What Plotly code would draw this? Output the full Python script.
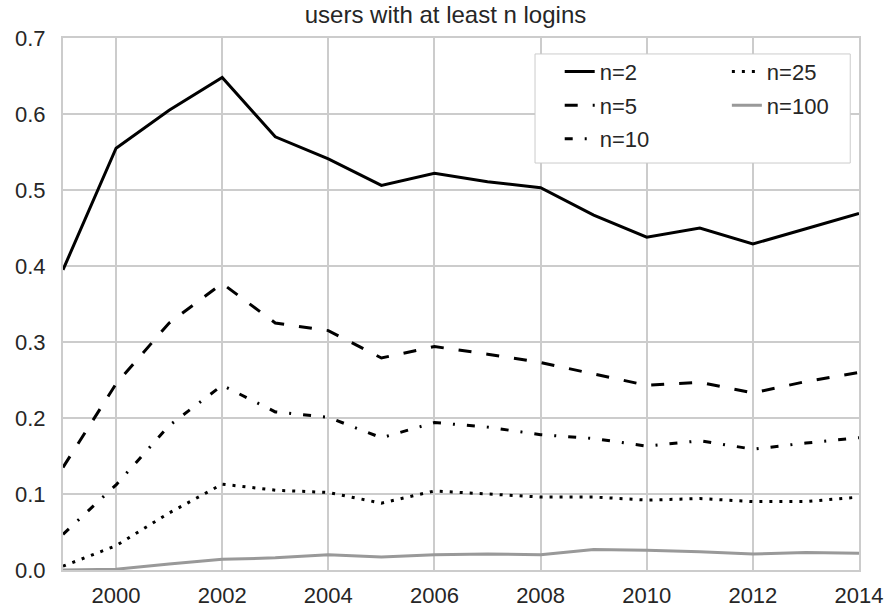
import plotly.graph_objects as go

years = list(range(1999, 2015))
n2 = [0.395, 0.555, 0.605, 0.648, 0.570, 0.541, 0.506, 0.522, 0.511, 0.503, 0.467, 0.438, 0.450, 0.429, 0.449, 0.469]
n5 = [0.135, 0.245, 0.325, 0.377, 0.325, 0.315, 0.279, 0.294, 0.284, 0.273, 0.258, 0.243, 0.247, 0.233, 0.248, 0.260]
n10 = [0.047, 0.112, 0.190, 0.243, 0.208, 0.201, 0.174, 0.194, 0.188, 0.178, 0.173, 0.163, 0.170, 0.159, 0.167, 0.174]
n25 = [0.005, 0.032, 0.075, 0.113, 0.105, 0.102, 0.088, 0.104, 0.100, 0.096, 0.096, 0.092, 0.094, 0.090, 0.090, 0.096]
n100 = [0.000, 0.001, 0.008, 0.014, 0.016, 0.020, 0.017, 0.020, 0.021, 0.020, 0.027, 0.026, 0.024, 0.021, 0.023, 0.022]

series = [
    ("n=2", n2, "black", "solid", "legend"),
    ("n=5", n5, "black", "13px,15px", "legend"),
    ("n=10", n10, "black", "8px,12px,2px,12px", "legend"),
    ("n=25", n25, "black", "3px,7px", "legend2"),
    ("n=100", n100, "#999999", "solid", "legend2"),
]

FONT = "Liberation Sans, Arial, sans-serif"
fig = go.Figure()
for name, vals, color, dash, lg in series:
    fig.add_trace(go.Scatter(x=years, y=vals, mode="lines", name=name,
                             line=dict(color=color, width=3, dash=dash),
                             legend=lg, legendgroup=name))

legend_common = dict(bgcolor="rgba(0,0,0,0)", borderwidth=0,
                     font=dict(family=FONT, size=22, color="#262626"),
                     xanchor="left", yanchor="top", tracegroupgap=2)

fig.update_layout(
    width=891, height=609,
    margin=dict(l=63, r=32, t=38, b=39, autoexpand=False),
    paper_bgcolor="white", plot_bgcolor="white",
    font=dict(family=FONT, size=22, color="#262626"),
    title=dict(text="users with at least n logins", x=0.5, xanchor="center",
               y=1 - 15 / 609, yanchor="middle", automargin=False,
               font=dict(family=FONT, size=24, color="#262626")),
    xaxis=dict(range=[1999, 2014], tickvals=list(range(2000, 2015, 2)),
               showgrid=True, gridcolor="#cccccc", gridwidth=2,
               showline=True, linecolor="#cccccc", linewidth=2, mirror=True,
               zeroline=False, ticks="", automargin=False, ticklabelstandoff=5,
               tickfont=dict(size=22, color="#262626")),
    yaxis=dict(range=[0, 0.7], tickvals=[0, 0.1, 0.2, 0.3, 0.4, 0.5, 0.6, 0.7],
               tickformat=".1f",
               showgrid=True, gridcolor="#cccccc", gridwidth=2,
               showline=True, linecolor="#cccccc", linewidth=2, mirror=True,
               zeroline=False, ticks="", ticklabelstandoff=11, automargin=False,
               tickfont=dict(size=22, color="#262626")),
    legend=dict(x=0.624, y=0.976, **legend_common),
    legend2=dict(x=0.834, y=0.976, **legend_common),
    showlegend=True,
    shapes=[dict(type="rect", xref="paper", yref="paper",
                 x0=0.593, x1=0.989, y0=0.765, y1=0.97,
                 line=dict(color="#cccccc", width=1), fillcolor="white",
                 layer="above")],
)

fig.write_html("out.html", config={"displayModeBar": False},
               post_script="document.body.style.margin='0';document.body.style.overflow='hidden';")
